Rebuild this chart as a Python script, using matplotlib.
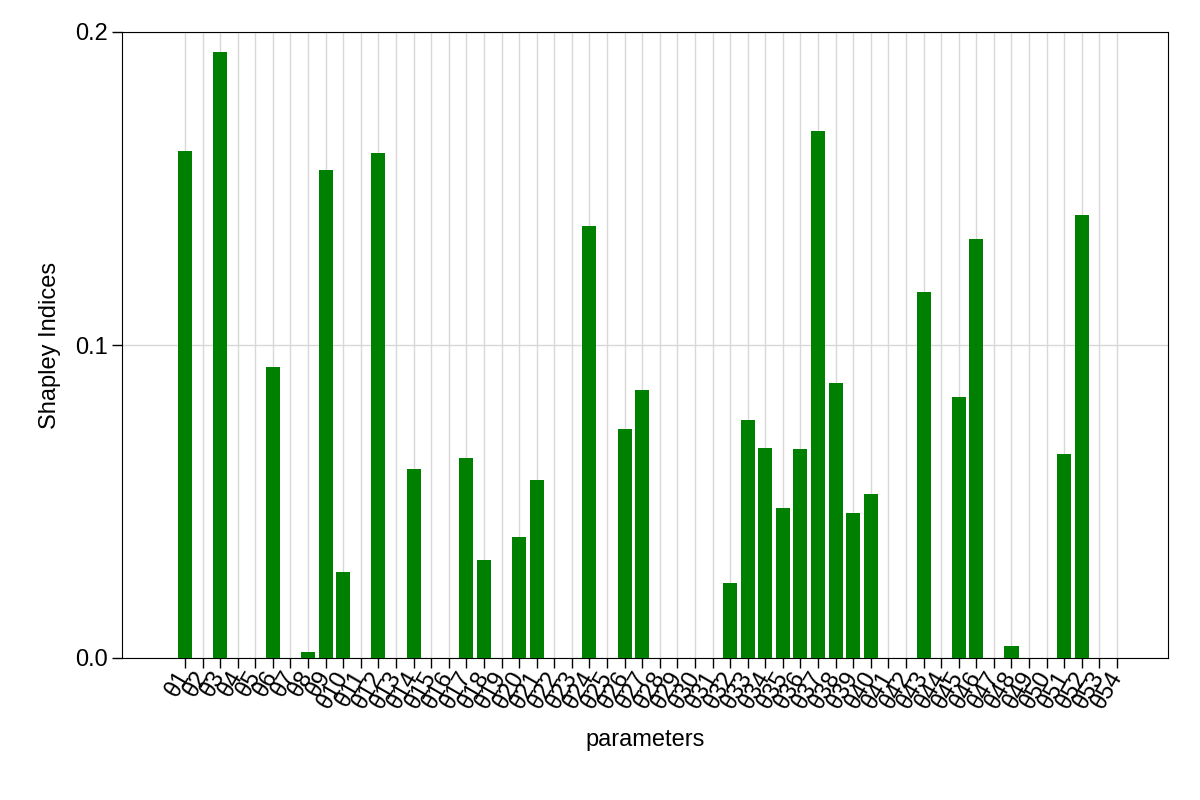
import matplotlib
matplotlib.use("Agg")
import matplotlib.pyplot as plt
import numpy as np

labels = [f"θ{i}" for i in range(1, 55)]
vals = {1: 0.162, 3: 0.1936, 6: 0.093, 8: 0.002, 9: 0.156, 10: 0.0275, 12: 0.1613,
        14: 0.0604, 17: 0.0639, 18: 0.0313, 20: 0.0387, 21: 0.0569, 24: 0.138,
        26: 0.0732, 27: 0.0856, 32: 0.024, 33: 0.076, 34: 0.0671, 35: 0.0479,
        36: 0.0668, 37: 0.1684, 38: 0.0879, 39: 0.0463, 40: 0.0524, 43: 0.117,
        45: 0.0834, 46: 0.134, 48: 0.0038, 51: 0.0652, 52: 0.1415}
values = [vals.get(i, 0.0) for i in range(1, 55)]

plt.rcParams['font.family'] = ['Liberation Sans', 'DejaVu Sans']
fig = plt.figure(figsize=(12, 8), dpi=100)
ax = fig.add_axes([122/1200, 1-658/800, (1168-122)/1200, (658-32)/800])
x = np.arange(1, 55)
ax.bar(x, values, width=0.8, color='green', zorder=3)
ax.set_xlim(-2.58, 56.9)
ax.set_ylim(0, 0.2)
ax.set_xticks(x)
ax.set_xticklabels(labels, rotation=-60, ha='left', va='center', rotation_mode='anchor', fontsize=17)
for t in ax.get_xticklabels():
    t.set_rotation(60)
    t.set_ha('right')
ax.set_yticks([0, 0.1, 0.2])
ax.set_yticklabels(["0.0", "0.1", "0.2"], fontsize=17)
ax.grid(True, color='#d8d8d8', linewidth=1, zorder=0)
ax.tick_params(length=7, width=1)
ax.set_xlabel("parameters", fontsize=17, labelpad=12)
ax.set_ylabel("Shapley Indices", fontsize=17, labelpad=10)
fig.savefig("out.png", dpi=100)
